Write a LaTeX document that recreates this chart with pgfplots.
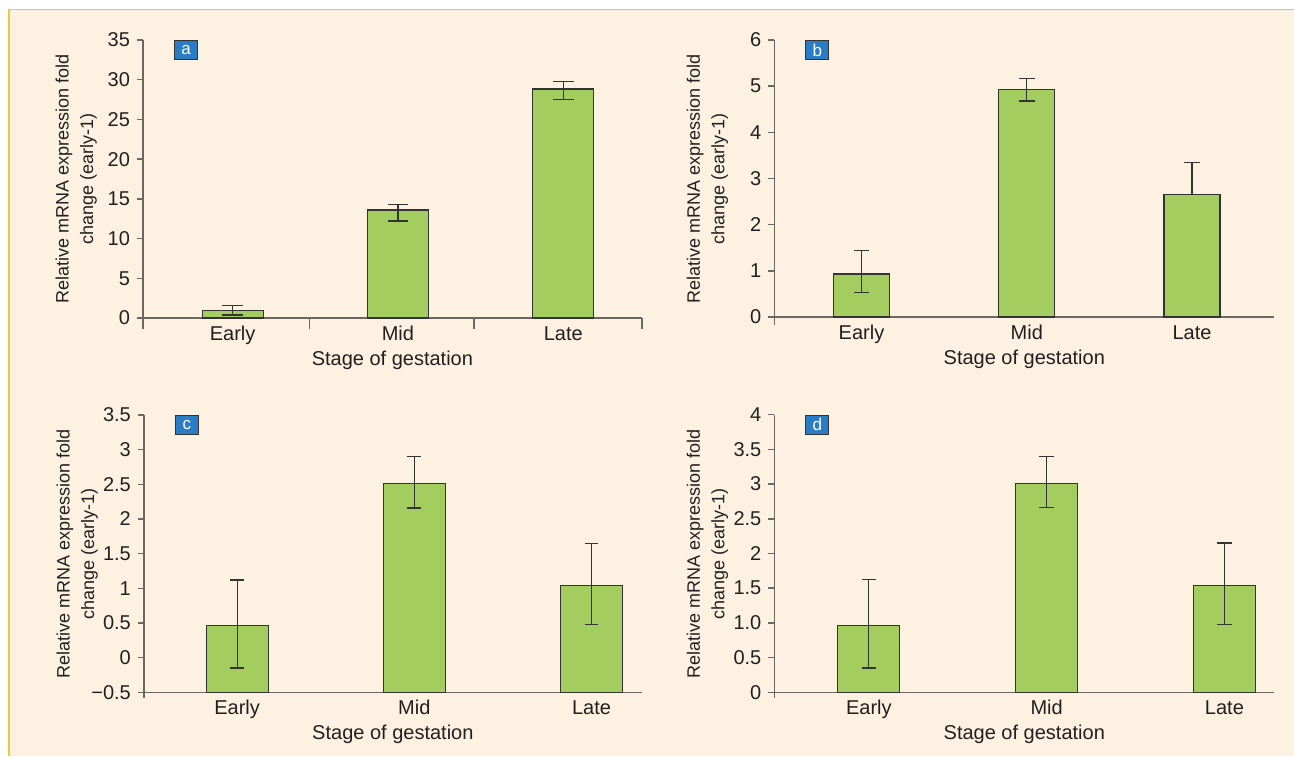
\documentclass[border=0pt]{standalone}
\usepackage{fontspec}
\setmainfont{Liberation Sans}
\usepackage{pgfplots}
\usepackage{pgfplotstable}
\pgfplotsset{compat=1.18}

\definecolor{cream}{HTML}{FDF2E2}
\definecolor{gold}{HTML}{F7C33B}
\definecolor{axisgray}{HTML}{6D6764}
\definecolor{barfill}{HTML}{A3CD5F}
\definecolor{bardraw}{HTML}{333333}
\definecolor{boxblue}{HTML}{2A7DC5}
\definecolor{txt}{HTML}{231F20}

% x: category index (0 Early, 1 Mid, 2 Late)
\pgfplotstableread{
x y plus minus
0 0.97 0.63 0.60
1 13.59 0.67 1.39
2 28.82 0.92 1.31
}\dataA
\pgfplotstableread{
x y plus minus
0 0.93 0.51 0.40
1 4.92 0.25 0.24
2 2.65 0.70 0.00
}\dataB
\pgfplotstableread{
x y plus minus
0 0.46 0.66 0.61
1 2.51 0.39 0.35
2 1.04 0.61 0.56
}\dataC
\pgfplotstableread{
x y plus minus
0 0.96 0.66 0.61
1 3.01 0.39 0.35
2 1.54 0.61 0.56
}\dataD

\tikzset{
  labelbox/.style={fill=boxblue, draw=bardraw, line width=0.5pt, text=white,
    font=\fontsize{8.5}{9}\selectfont, minimum width=11.5pt, minimum height=9.5pt,
    inner sep=0pt, anchor=north west, xshift=15.5pt},
  axtick/.style={draw=axisgray, line width=0.75pt},
}
\pgfplotsset{
  panel/.style={
    scale only axis,
    anchor=south west,
    axis x line*=bottom,
    axis y line*=left,
    axis line style={draw=axisgray, line width=0.75pt, -},
    tick align=outside,
    major tick length=3pt,
    ytick style={draw=axisgray, line width=0.75pt},
    xtick style={draw=none},
    xtick={0,1,2},
    xticklabels={Early,Mid,Late},
    tick label style={font=\fontsize{10}{12}\selectfont, text=txt},
    xticklabel style={anchor=base, yshift=-8pt},
    xlabel={Stage of gestation},
    ylabel={Relative mRNA expression fold\\change (early-1)},
    every axis y label/.style={at={(axis description cs:-0.134,0.5)}, rotate=90, anchor=center, align=center, font=\fontsize{9}{12.2}\selectfont, text=txt},
    every axis x label/.style={at={(axis description cs:0.5,0)}, yshift=-21pt, anchor=center, font=\fontsize{10}{12}\selectfont, text=txt},
    clip=false,
  },
  barsty/.style 2 args={ybar, bar width=#1, fill=barfill, draw=bardraw, line width=0.6pt,
    error bars/.cd, y dir=both, y explicit,
    error bar style={draw=bardraw, line width=0.6pt},
    error mark options={rotate=90, mark size=#2, line width=0.6pt, draw=bardraw},
    /pgfplots/.cd},
}

\begin{document}
\begin{tikzpicture}
\useasboundingbox (0,0) rectangle (647pt,378pt);
\fill[white] (0,0) rectangle (647pt,378pt);
\fill[cream] (4.5pt,0) rectangle (647pt,373.2pt);
\draw[gold, line width=0.8pt] (4.5pt,0) -- (4.5pt,373.2pt) -- (647pt,373.2pt);

% ---------- panel a ----------
\begin{axis}[panel, at={(71.5pt,219pt)}, width=249.4pt, height=139pt,
  xmin=-0.542, xmax=2.475, ymin=0, ymax=35,
  ytick={0,5,10,15,20,25,30,35}, yticklabels={0,5,10,15,20,25,30,35}]
\addplot[barsty={30.5pt}{5.2pt}] table[x=x, y=y, y error plus=plus, y error minus=minus] {\dataA};
\draw[axtick] (rel axis cs:0,0) -- ([yshift=-5.6pt]rel axis cs:0,0);
\draw[axtick] (axis cs:0.466,0) -- ([yshift=-5.6pt]axis cs:0.466,0);
\draw[axtick] (axis cs:1.460,0) -- ([yshift=-5.6pt]axis cs:1.460,0);
\draw[axtick] (rel axis cs:1,0) -- ([yshift=-5.6pt]rel axis cs:1,0);
\node[labelbox] at (rel axis cs:0,1) {a};
\end{axis}

% ---------- panel b ----------
\begin{axis}[panel, at={(387.2pt,219.5pt)}, width=249.9pt, height=138.5pt,
  xmin=-0.527, xmax=2.497, ymin=0, ymax=6,
  ytick={0,1,2,3,4,5,6}, yticklabels={0,1,2,3,4,5,6}]
\addplot[barsty={28pt}{3.9pt}] table[x=x, y=y, y error plus=plus, y error minus=minus] {\dataB};
\draw[axtick] (rel axis cs:0,0) -- ([yshift=-4pt]rel axis cs:0,0);
\node[labelbox] at (rel axis cs:0,1) {b};
\end{axis}

% ---------- panel c (axis starts at -0.5: bars drawn from the axis floor) ----------
\begin{axis}[panel, at={(71.95pt,31.85pt)}, width=248.95pt, height=138.65pt,
  xmin=-0.526, xmax=2.284, ymin=0, ymax=4,
  ytick={0,0.5,1,1.5,2,2.5,3,3.5,4},
  yticklabels={−0.5,0,0.5,1,1.5,2,2.5,3,3.5}]
\addplot[y filter/.expression={y+0.5}, barsty={31pt}{3.4pt}] table[x=x, y=y, y error plus=plus, y error minus=minus] {\dataC};
\draw[axtick] (rel axis cs:0,0) -- ([yshift=-3pt]rel axis cs:0,0);
\node[labelbox] at (rel axis cs:0,1) {c};
\end{axis}

% ---------- panel d ----------
\begin{axis}[panel, at={(387.2pt,31.85pt)}, width=249.9pt, height=138.8pt,
  xmin=-0.531, xmax=2.280, ymin=0, ymax=4,
  ytick={0,0.5,1,1.5,2,2.5,3,3.5,4},
  yticklabels={0,0.5,1.0,1.5,2,2.5,3,3.5,4}]
\addplot[barsty={31pt}{3.6pt}] table[x=x, y=y, y error plus=plus, y error minus=minus] {\dataD};
\draw[axtick] (rel axis cs:0,0) -- ([yshift=-3pt]rel axis cs:0,0);
\node[labelbox] at (rel axis cs:0,1) {d};
\end{axis}
\end{tikzpicture}
\end{document}
